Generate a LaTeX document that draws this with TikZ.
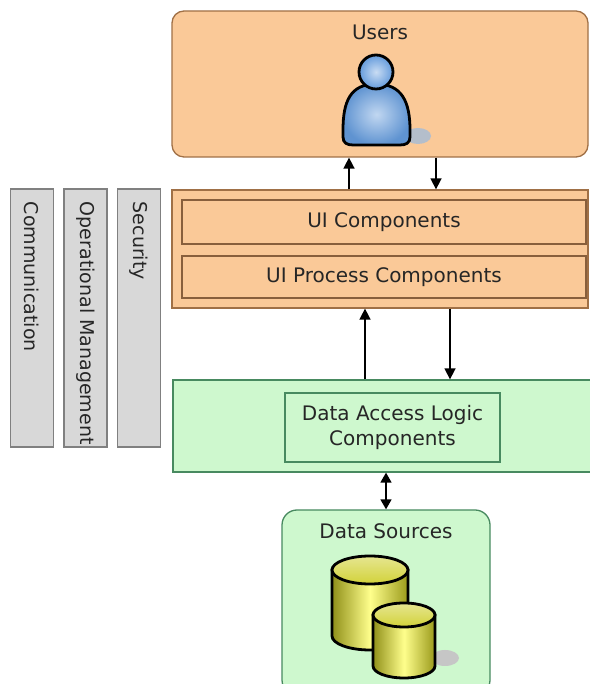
\documentclass[tikz,border=0pt]{standalone}
\usepackage{fontspec}
\setmainfont{DejaVu Sans}
\usetikzlibrary{arrows.meta}
\definecolor{uiorange}{RGB}{250,201,152}
\definecolor{uiborder}{RGB}{160,112,70}
\definecolor{datagreen}{RGB}{206,248,206}
\definecolor{databorder}{RGB}{72,138,96}
\definecolor{barfill}{RGB}{216,216,216}
\definecolor{barborder}{RGB}{128,128,128}
\definecolor{userblue}{RGB}{100,155,220}
\definecolor{dbyellow}{RGB}{205,205,35}
\tikzset{%
  pics/database/.style={code={%
      \tikzset{database/.cd,#1}%
      \pgfkeysgetvalue{/tikz/database/w}\dbw
      \pgfkeysgetvalue{/tikz/database/h}\dbh
      \pgfkeysgetvalue{/tikz/database/ry}\dbry
      % body of the cylinder
      \path[database/body] (-\dbw,0) -- (-\dbw,-\dbh)
        arc[start angle=180,end angle=360,x radius=\dbw,y radius=\dbry]
        -- (\dbw,0) -- cycle;
      % top lid
      \path[database/lid] (0,0) ellipse[x radius=\dbw,y radius=\dbry];
    }
  },
  database/.cd,
  w/.initial=30,
  h/.initial=50,
  ry/.initial=12,
  body/.style={draw=black,line width=2.8pt,left color=dbyellow!70!black,
    right color=dbyellow!75!black,middle color=yellow!45!white},
  lid/.style={draw=black,line width=2.8pt,top color=dbyellow!50!white,
    bottom color=dbyellow!90!white},
}
\tikzset{%
  pics/user icon/.style={code={%
      % shadow at the foot
      \fill[user shadow] (42,-64) ellipse[x radius=13,y radius=8];
      % body
      \path[user body] (-33,-58) .. controls (-33,-30) and (-26,-12) .. (0,-12)
        .. controls (26,-12) and (34,-30) .. (34,-58) -- (34,-65)
        .. controls (34,-71) and (30,-73) .. (24,-73) -- (-23,-73)
        .. controls (-29,-73) and (-33,-71) .. (-33,-65) -- cycle;
      % head
      \path[user head] (0,0) circle[radius=17];
    }
  },
  user shadow/.style={fill=userblue!35!gray!55},
  user body/.style={draw=black,line width=2.8pt,inner color=userblue!40!white,
    outer color=userblue!95!black},
  user head/.style={draw=black,line width=2.8pt,inner color=userblue!35!white,
    outer color=userblue},
}
\tikzset{%
  box text/.style={font=\fontsize{20}{25}\selectfont, text=black!85},
  orange layer/.style={draw=uiborder, fill=uiorange, line width=1.3pt},
  orange part/.style={draw=uiborder!85!black, fill=uiorange, line width=1.3pt, box text},
  green layer/.style={draw=databorder, fill=datagreen, line width=1.3pt},
  green part/.style={draw=databorder, fill=datagreen, line width=1.3pt, box text, align=center},
  side bar/.style={draw=barborder, fill=barfill, line width=1.2pt,
    minimum width=43pt, minimum height=258pt},
  bar text/.style={font=\fontsize{19}{24}\selectfont, text=black!85, rotate=-90, anchor=west},
  flow/.style={-{Triangle[length=11pt,width=11pt]}, line width=1.6pt},
  two way/.style={{Triangle[length=10pt,width=11pt]}-{Triangle[length=10pt,width=11pt]}, line width=1.6pt},
  shadow blob/.style={fill=gray!45},
}
\begin{document}
\begin{tikzpicture}[x=1pt,y=1pt]
  \fill[white] (0,0) rectangle (589,684);
  \useasboundingbox (0,0) rectangle (589,684);
  % users
  \node[orange layer, rounded corners=12pt, minimum width=416pt, minimum height=146pt] (users) at (380,600) {};
  \node[box text] (users label) at ([yshift=-22pt]users.north) {Users};
  \pic at (376,612) {user icon};
  % presentation layer
  \node[orange layer, minimum width=416pt, minimum height=118pt] (ui) at (380,435) {};
  \node[orange part, minimum width=404pt, minimum height=44pt] (ui comp) at (384,462) {UI Components};
  \node[orange part, minimum width=404pt, minimum height=42pt] (ui proc) at (384,407) {UI Process Components};
  % data layer
  \node[green layer, minimum width=420pt, minimum height=92pt] (dal layer) at (383,258) {};
  \node[green part, minimum width=215pt, minimum height=69pt] (dal) at (392.5,256.5) {Data Access Logic\\Components};
  % data sources
  \node[green layer, rounded corners=15pt, minimum width=208pt, minimum height=185pt] (sources) at (386,81.5) {};
  \node[box text] (sources label) at ([yshift=-22pt]sources.north) {Data Sources};
  \pic at (370,114) {database={w=38,h=66,ry=14}};
  \fill[shadow blob] (445,26) ellipse[x radius=14,y radius=8];
  \pic at (404,69) {database={w=31,h=51,ry=12}};
  % cross-cutting bars
  \foreach \x/\name/\txt in {32/comm/Communication, 85.5/ops/Operational Management, 139/sec/Security} {
    \node[side bar] (\name) at (\x,366) {};
    \node[bar text] at ([yshift=-10pt]\name.north) {\txt};
  }
  % connectors
  \draw[flow] ([xshift=-31pt]ui.north) -- ([xshift=-31pt]users.south);
  \draw[flow] ([xshift=56pt]users.south) -- ([xshift=56pt]ui.north);
  \draw[flow] ([xshift=-15pt]ui.south |- dal layer.north) -- ([xshift=-15pt]ui.south);
  \draw[flow] ([xshift=70pt]ui.south) -- ([xshift=70pt]ui.south |- dal layer.north);
  \draw[two way] (sources.north) -- (sources.north |- dal layer.south);
\end{tikzpicture}
\end{document}
